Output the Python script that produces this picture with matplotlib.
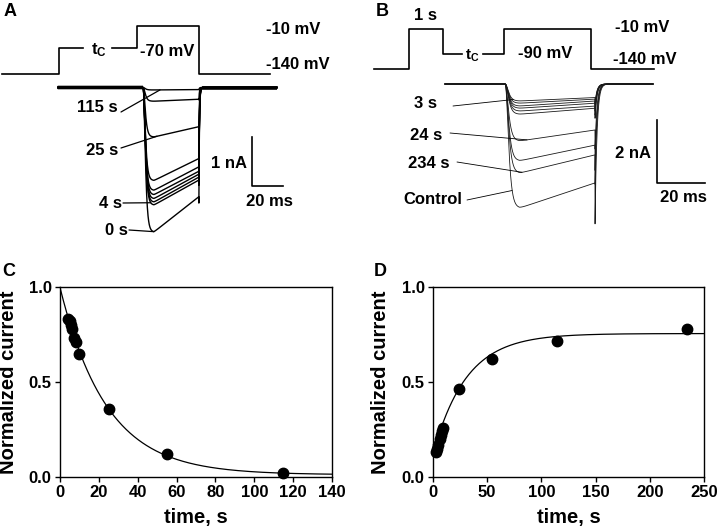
import numpy as np
import matplotlib
matplotlib.use("Agg")
import matplotlib.pyplot as plt

plt.rcParams['font.family'] = ['Liberation Sans', 'DejaVu Sans']
plt.rcParams['font.weight'] = 'bold'
plt.rcParams['mathtext.fontset'] = 'custom'
plt.rcParams['mathtext.rm'] = 'Liberation Sans:bold'
plt.rcParams['mathtext.it'] = 'Liberation Sans:bold'
plt.rcParams['mathtext.bf'] = 'Liberation Sans:bold'

# ---------------- data ----------------
# Panel A: current traces (nA) peak and end-of-pulse amplitudes
A_labels = ["0 s", "4 s", "", "", "", "", "", "25 s", "", "115 s"]
A_peak = [2.95, 2.40, 2.34, 2.27, 2.19, 2.10, 1.90, 1.01, 0.28, 0.05]
A_end = [2.23, 1.89, 1.83, 1.77, 1.71, 1.62, 1.45, 0.80, 0.24, 0.04]
A_pulse_ms = 36.0
# Panel A protocol (schematic ms, mV)
A_prot1_t = [-87.0, -50.3, -50.3, -34.8]
A_prot1_v = [-140, -140, -70, -70]
A_prot2_t = [-16.1, 0.0, 0.0, 40.0, 40.0, 85.8]
A_prot2_v = [-70, -70, -10, -10, -140, -140]

# Panel B: current traces (nA)
B_peak = [3.94, 2.83, 2.44, 1.81, 0.96, 0.86, 0.77, 0.70, 0.61, 0.54]
B_end = [3.14, 2.25, 1.94, 1.46, 0.77, 0.70, 0.61, 0.54, 0.48, 0.43]
B_pulse_ms = 37.5
B_prot1_t = [-54.2, -39.6, -39.6, -25.4, -25.4, -17.5]
B_prot1_v = [-140, -140, -10, -10, -90, -90]
B_prot2_t = [-8.75, 0.0, 0.0, 36.25, 36.25, 62.5]
B_prot2_v = [-90, -90, -10, -10, -140, -140]

# Panel C
C_time = [4, 5, 5.5, 6, 7, 8, 10, 25, 55, 115]
C_norm = [0.83, 0.82, 0.80, 0.78, 0.73, 0.71, 0.65, 0.36, 0.12, 0.02]
C_fit = dict(a=0.985, tau=24.0, c=0.012)
# Panel D
D_time = [3, 4, 5, 6, 7, 8, 9, 24, 54, 114, 234]
D_norm = [0.13, 0.15, 0.17, 0.20, 0.22, 0.24, 0.26, 0.465, 0.62, 0.715, 0.78]
D_fit = dict(c=0.755, a=0.635, tau=30.6)

# ---------------- helpers ----------------
W, H = 720, 531
fig = plt.figure(figsize=(W / 100, H / 100), dpi=100)


def px_axes(l, t, r, b):
    return fig.add_axes([l / W, 1 - b / H, (r - l) / W, (b - t) / H])


def ftext(x, y, s, size=12, ha='center', va='center', **kw):
    fig.text(x / W, 1 - y / H, s, fontsize=size, ha=ha, va=va,
             fontweight='bold', **kw)


def scaled_axes(box, x0, sx, y0, sy):
    l, t, r, b = box
    ax = px_axes(l, t, r, b)
    ax.set_xlim((l - x0) / sx, (r - x0) / sx)
    ax.set_ylim((y0 - b) / sy, (y0 - t) / sy)
    ax.axis('off')
    return ax


def trace(t, P, E, T, tau_a, tp, k_tail, tau_tail):
    t = np.asarray(t, dtype=float)
    I = np.zeros_like(t)
    on = (t >= 0) & (t < T)
    tt = t[on]
    m = 1 - np.exp(-tt / tau_a)
    h = np.where(tt < tp, P, P - (P - E) * (tt - tp) / (T - tp))
    I[on] = -(m ** 3) * h
    off = t >= T
    I[off] = -E * k_tail * np.exp(-(t[off] - T) / tau_tail)
    return I


def leader(ax, xy, start_px, lw):
    ax.annotate('', xy=xy, xycoords='data',
                xytext=(start_px[0], H - start_px[1]), textcoords='figure pixels',
                arrowprops=dict(arrowstyle='-', lw=lw, color='black',
                                shrinkA=0, shrinkB=0))

# ---------------- Panel A ----------------
A_par = dict(T=A_pulse_ms, tau_a=1.0, tp=7.0, k_tail=1.22, tau_tail=0.35)
boxA = (0, 0, 360, 250)
axAp = scaled_axes(boxA, 137, 1.55, 22.3, 0.369)
axAp.plot(A_prot1_t, A_prot1_v, color='black', lw=1.2)
axAp.plot(A_prot2_t, A_prot2_v, color='black', lw=1.2)

axA = scaled_axes(boxA, 143, 1.55, 87.5, 49.0)
tA = np.arange(-55, 86.5, 0.05)
for P, E in zip(A_peak, A_end):
    axA.plot(tA, trace(tA, P, E, **A_par), color='black', lw=1.0)
base = (tA < 0)
axA.plot(tA[base], np.zeros(base.sum()), color='black', lw=2.6, solid_capstyle='butt')
post = tA > A_pulse_ms + 2.0
axA.plot(tA[post], np.zeros(post.sum()), color='black', lw=2.6, solid_capstyle='butt')

# scale bars A (1 nA, 20 ms)
axA.plot([70.3, 70.3, 90.3], [-1.01, -2.01, -2.01], color='black', lw=1.2)


def Ival(i, tt, peaks, ends, par):
    return trace([tt], peaks[i], ends[i], **par)[0]


leader(axA, (11.0, Ival(9, 11.0, A_peak, A_end, A_par)), (121, 112), 0.9)
leader(axA, (9.0, Ival(7, 9.0, A_peak, A_end, A_par)), (121, 148), 0.9)
leader(axA, (5.0, Ival(1, 5.0, A_peak, A_end, A_par)), (123, 203), 0.9)
leader(axA, (7.0, Ival(0, 7.0, A_peak, A_end, A_par)), (129, 230), 0.9)

ftext(10, 12, "A", size=13)
ftext(99, 50, r"$\mathrm{t_C}$", size=12)
ftext(167, 51, "-70 mV")
ftext(266, 30, "-10 mV", ha='left')
ftext(266, 65, "-140 mV", ha='left')
ftext(118, 108, "115 s", ha='right')
ftext(118, 150, "25 s", ha='right')
ftext(122, 203, "4 s", ha='right')
ftext(128, 230, "0 s", ha='right')
ftext(229, 163, "1 nA")
ftext(269, 202, "20 ms")

# ---------------- Panel B ----------------
B_par = dict(T=B_pulse_ms, tau_a=1.0, tp=6.0, k_tail=1.45, tau_tail=0.8)
boxB = (360, 0, 720, 250)
axBp = scaled_axes(boxB, 504, 2.4, 25.9, 0.3077)
axBp.plot(B_prot1_t, B_prot1_v, color='black', lw=1.2)
axBp.plot(B_prot2_t, B_prot2_v, color='black', lw=1.2)

axB = scaled_axes(boxB, 505, 2.4, 84.0, 31.5)
tB = np.arange(-25, 61.7, 0.03)
for P, E in zip(B_peak, B_end):
    axB.plot(tB, trace(tB, P, E, **B_par), color='#1a1a1a', lw=0.6)

# scale bars B (2 nA, 20 ms)
axB.plot([63.3, 63.3, 83.3], [-1.14, -3.14, -3.14], color='black', lw=1.2)

leader(axB, (3.5, Ival(9, 3.5, B_peak, B_end, B_par)), (453, 106), 0.6)
leader(axB, (9.2, Ival(3, 9.2, B_peak, B_end, B_par)), (450, 133), 0.6)
leader(axB, (7.1, Ival(1, 7.1, B_peak, B_end, B_par)), (457, 162), 0.6)
leader(axB, (3.0, Ival(0, 3.0, B_peak, B_end, B_par)), (467, 200), 0.6)

ftext(382, 11, "B", size=13)
ftext(425, 15, "1 s")
ftext(472, 56, r"$\mathrm{t_C}$", size=11)
ftext(545, 53, "-90 mV")
ftext(615, 27, "-10 mV", ha='left')
ftext(613, 60, "-140 mV", ha='left')
ftext(437, 104, "3 s", ha='right')
ftext(442, 135, "24 s", ha='right')
ftext(449, 163, "234 s", ha='right')
ftext(462, 199, "Control", ha='right')
ftext(633, 153, "2 nA")
ftext(683, 198, "20 ms")

# ---------------- Panels C & D ----------------


def style(ax, xmax, xstep):
    ax.set_xlim(0, xmax)
    ax.set_ylim(0, 1.0)
    ax.set_xticks(np.arange(0, xmax + 1, xstep))
    ax.set_yticks([0.0, 0.5, 1.0])
    ax.set_yticklabels(["0.0", "0.5", "1.0"])
    for s in ax.spines.values():
        s.set_linewidth(1.0)
    ax.tick_params(direction='out', length=3.5, width=1.0, labelsize=12, pad=2.5,
                   top=False, right=False)
    for lab in ax.get_xticklabels() + ax.get_yticklabels():
        lab.set_fontweight('bold')
    ax.set_xlabel("time, s", fontsize=14.5, fontweight='bold', va='center')
    ax.set_ylabel("Normalized current", fontsize=14.5, fontweight='bold', va='center')
    ax.xaxis.set_label_coords(0.5, (477 - 518) / 190)


axC = px_axes(60, 287, 332, 477)
style(axC, 140, 20)
axC.yaxis.set_label_coords((9 - 60) / 272, 0.5)
tc = np.linspace(0, 140, 400)
axC.plot(tc, C_fit['a'] * np.exp(-tc / C_fit['tau']) + C_fit['c'], color='black', lw=0.9)
axC.plot(C_time, C_norm, 'o', color='black', ms=7.5, clip_on=False)
ftext(9, 271, "C", size=13)

axD = px_axes(433, 287, 704, 477)
style(axD, 250, 50)
axD.yaxis.set_label_coords((381 - 433) / 271, 0.5)
td = np.linspace(0, 250, 400)
axD.plot(td, D_fit['c'] - D_fit['a'] * np.exp(-td / D_fit['tau']), color='black', lw=0.9)
axD.plot(D_time, D_norm, 'o', color='black', ms=7.5, clip_on=False)
ftext(380, 271, "D", size=13)

fig.savefig("out.png", dpi=100)
